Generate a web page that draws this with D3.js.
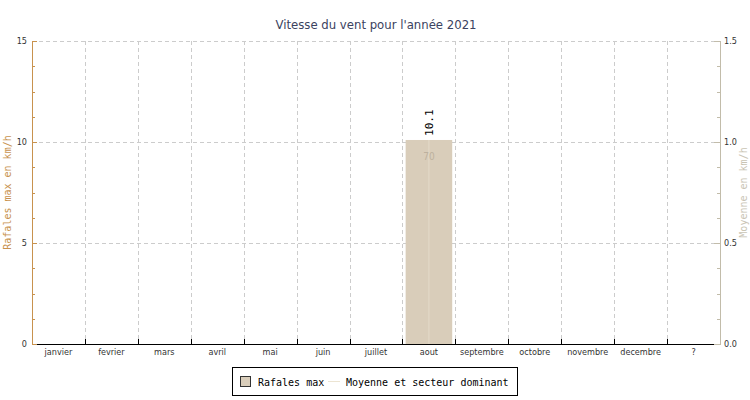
<!DOCTYPE html>
<html lang="fr">
<head>
<meta charset="UTF-8">
<title>Vitesse du vent 2021</title>
<script src="https://cdnjs.cloudflare.com/ajax/libs/d3/7.8.5/d3.min.js"></script>
<style>
    body { margin: 0; background: #fff; }
    svg { display: block; }
    .tick-label { font-family: 'DejaVu Sans Condensed', 'DejaVu Sans', sans-serif; font-size: 9px; fill: #333; }
    .mono { font-family: 'DejaVu Sans Mono', monospace; }
</style>
</head>
<body>
<svg id="chart" width="750" height="400"></svg>
<script>
    const months = ['janvier', 'fevrier', 'mars', 'avril', 'mai', 'juin', 'juillet',
                    'aout', 'septembre', 'octobre', 'novembre', 'decembre', '?'];
    const gusts = [null, null, null, null, null, null, null, 10.1, null, null, null, null, null];
    const sectors = [null, null, null, null, null, null, null, '70', null, null, null, null, null];
    const leftTicks = [0, 5, 10, 15];
    const rightTicks = [0, 0.5, 1.0, 1.5];

    const svg = d3.select('#chart');
    const plotLeft = 32, plotRight = 720, plotTop = 41, plotBottom = 344;

    const x = d3.scaleBand().domain(months).range([plotLeft, plotRight]).paddingInner(0.12).paddingOuter(0.06);
    const xEdge = d3.scaleLinear().domain([0, months.length]).range([plotLeft, plotRight]);
    const y = d3.scaleLinear().domain([0, 15]).range([plotBottom, plotTop]);
    const y2 = d3.scaleLinear().domain([0, 1.5]).range([plotBottom, plotTop]);

    // title
    svg.append('text')
        .attr('x', 376).attr('y', 29)
        .attr('text-anchor', 'middle')
        .style('font-family', "'DejaVu Sans Condensed', sans-serif")
        .style('font-size', '13px')
        .attr('fill', '#3b4260')
        .text("Vitesse du vent pour l'année 2021");

    // grid
    const grid = svg.append('g').attr('stroke', '#ccc').attr('stroke-dasharray', '4,3').attr('stroke-width', 1);
    leftTicks.filter(d => d > 0).forEach(d => {
        grid.append('line').attr('x1', plotLeft).attr('x2', plotRight)
            .attr('y1', Math.round(y(d)) + 0.5).attr('y2', Math.round(y(d)) + 0.5);
    });
    d3.range(1, months.length).forEach(i => {
        grid.append('line').attr('x1', Math.round(xEdge(i)) + 0.5).attr('x2', Math.round(xEdge(i)) + 0.5)
            .attr('y1', plotTop).attr('y2', plotBottom);
    });

    // bars
    const bars = svg.append('g');
    months.forEach((m, i) => {
        if (gusts[i] == null) return;
        const bx = x(m), bw = x.bandwidth(), by = y(gusts[i]);
        bars.append('rect')
            .attr('x', bx).attr('y', by)
            .attr('width', bw).attr('height', plotBottom - by)
            .attr('fill', '#d9cdba');
        bars.append('line')
            .attr('x1', bx + bw / 2).attr('x2', bx + bw / 2)
            .attr('y1', by).attr('y2', plotBottom)
            .attr('stroke', '#e4dac9').attr('stroke-width', 1);
        bars.append('text')
            .attr('class', 'mono')
            .attr('transform', `translate(${bx + bw / 2 + 4},${by - 4}) rotate(-90)`)
            .style('font-size', '11px')
            .attr('fill', '#000')
            .text(gusts[i]);
        if (sectors[i]) {
            bars.append('text')
                .attr('x', bx + bw / 2).attr('y', by + 20)
                .attr('text-anchor', 'middle')
                .style('font-family', "'DejaVu Sans Condensed', sans-serif")
                .style('font-size', '10px')
                .attr('fill', '#bdb19e')
                .text(sectors[i]);
        }
    });

    // x axis
    svg.append('line').attr('x1', plotLeft).attr('x2', 714)
        .attr('y1', plotBottom + 0.5).attr('y2', plotBottom + 0.5)
        .attr('stroke', '#000');
    d3.range(1, months.length).forEach(i => {
        svg.append('line').attr('x1', Math.round(xEdge(i)) + 0.5).attr('x2', Math.round(xEdge(i)) + 0.5)
            .attr('y1', plotBottom - 5).attr('y2', plotBottom).attr('stroke', '#000');
    });
    months.forEach((m, i) => {
        svg.append('text').attr('class', 'tick-label')
            .attr('x', (xEdge(i) + xEdge(i + 1)) / 2).attr('y', 355)
            .attr('text-anchor', 'middle')
            .text(m);
    });

    // left axis
    const leftColor = '#c8924e';
    svg.append('line').attr('x1', plotLeft + 0.5).attr('x2', plotLeft + 0.5)
        .attr('y1', plotTop).attr('y2', plotBottom + 1).attr('stroke', leftColor);
    d3.range(0, 15.01, 1.25).forEach(v => {
        const major = v % 5 === 0;
        svg.append('line').attr('x1', plotLeft).attr('x2', plotLeft + (major ? 5 : 3))
            .attr('y1', Math.round(y(v)) + 0.5).attr('y2', Math.round(y(v)) + 0.5)
            .attr('stroke', leftColor);
    });
    leftTicks.forEach(v => {
        svg.append('text').attr('class', 'tick-label')
            .attr('x', 27).attr('y', y(v) + 3)
            .attr('text-anchor', 'end')
            .text(v);
    });
    svg.append('text')
        .attr('transform', `translate(11,${(plotTop + plotBottom) / 2}) rotate(-90)`)
        .attr('text-anchor', 'middle')
        .style('font-family', "'DejaVu Sans Mono', monospace")
        .style('font-size', '10px')
        .attr('fill', leftColor)
        .text('Rafales max en km/h');

    // right axis
    const rightColor = '#c2bcaa';
    svg.append('line').attr('x1', plotRight + 0.5).attr('x2', plotRight + 0.5)
        .attr('y1', plotTop).attr('y2', plotBottom + 1).attr('stroke', rightColor);
    d3.range(0, 1.501, 0.125).forEach(v => {
        const major = Math.abs(v * 2 - Math.round(v * 2)) < 1e-6;
        svg.append('line').attr('x1', plotRight - (major ? 6 : 3)).attr('x2', plotRight)
            .attr('y1', Math.round(y2(v)) + 0.5).attr('y2', Math.round(y2(v)) + 0.5)
            .attr('stroke', rightColor);
    });
    rightTicks.forEach(v => {
        svg.append('text').attr('class', 'tick-label')
            .attr('x', 724).attr('y', y2(v) + 3)
            .text(v.toFixed(1));
    });
    svg.append('text')
        .attr('transform', `translate(747,${(plotTop + plotBottom) / 2}) rotate(-90)`)
        .attr('text-anchor', 'middle')
        .style('font-family', "'DejaVu Sans Mono', monospace")
        .style('font-size', '10px')
        .attr('fill', '#c9c4b4')
        .text('Moyenne en km/h');

    // legend
    const lg = svg.append('g');
    lg.append('rect').attr('x', 232.5).attr('y', 367.5).attr('width', 285).attr('height', 28)
        .attr('fill', '#fff').attr('stroke', '#000');
    lg.append('rect').attr('x', 240.5).attr('y', 376.5).attr('width', 10).attr('height', 10)
        .attr('fill', '#d9cdba').attr('stroke', '#333');
    lg.append('text').attr('class', 'mono').attr('x', 258).attr('y', 386)
        .style('font-size', '10px').text('Rafales max');
    lg.append('line').attr('x1', 328).attr('x2', 340).attr('y1', 381.5).attr('y2', 381.5)
        .attr('stroke', '#ece4d2').attr('stroke-width', 1);
    lg.append('text').attr('class', 'mono').attr('x', 346).attr('y', 386)
        .style('font-size', '10px').text('Moyenne et secteur dominant');
</script>
</body>
</html>
